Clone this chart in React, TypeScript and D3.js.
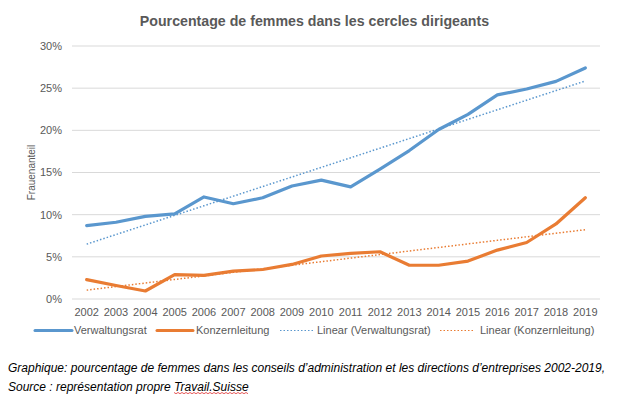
import React from "react";
import * as d3 from "d3";

const years = ["2002","2003","2004","2005","2006","2007","2008","2009","2010","2011","2012","2013","2014","2015","2016","2017","2018","2019"];
const verwaltungsrat = [8.7, 9.1, 9.8, 10.1, 12.1, 11.3, 12.0, 13.4, 14.1, 13.3, 15.4, 17.6, 20.1, 21.9, 24.2, 24.9, 25.8, 27.4];
const konzernleitung = [2.3, 1.6, 0.95, 2.9, 2.8, 3.3, 3.5, 4.1, 5.1, 5.4, 5.6, 4.0, 4.0, 4.5, 5.8, 6.7, 8.9, 12.0];
const yTicks = [0, 5, 10, 15, 20, 25, 30];
const legendLabels = ["Verwaltungsrat", "Konzernleitung", "Linear (Verwaltungsrat)", "Linear (Konzernleitung)"];

const BLUE = "#5A97CE";
const ORANGE = "#E97C33";
const TEXT = "#595959";
const FONT = "'Liberation Sans', Arial, sans-serif";

function linReg(vals: number[]) {
  const n = vals.length;
  const mx = (n - 1) / 2;
  const my = d3.mean(vals) as number;
  let num = 0, den = 0;
  vals.forEach((v, i) => { num += (i - mx) * (v - my); den += (i - mx) * (i - mx); });
  const b = num / den;
  const a = my - b * mx;
  return vals.map((_, i) => a + b * i);
}

export default function App() {
  const W = 626, H = 407;
  const left = 72, right = 600, top = 46, bottom = 299;
  const x = d3.scaleBand<string>().domain(years).range([left, right]);
  const xc = (d: string) => (x(d) as number) + x.bandwidth() / 2;
  const y = d3.scaleLinear().domain([0, 30]).range([bottom, top]);
  const line = d3.line<number>().x((_, i) => xc(years[i])).y((v) => y(v));

  const trendV = linReg(verwaltungsrat);
  const trendK = linReg(konzernleitung);

  const legendItems = [
    { label: legendLabels[0], color: BLUE, dotted: false, x1: 35, x2: 72, tx: 74 },
    { label: legendLabels[1], color: ORANGE, dotted: false, x1: 157, x2: 193, tx: 196 },
    { label: legendLabels[2], color: BLUE, dotted: true, x1: 280, x2: 314, tx: 317 },
    { label: legendLabels[3], color: ORANGE, dotted: true, x1: 440, x2: 474, tx: 480 },
  ];
  const legendY = 330.5;

  return (
    <svg width={W} height={H} style={{ position: "absolute", left: 0, top: 0, background: "#fff" }} fontFamily={FONT}>
      <rect width={W} height={H} fill="#fff" />
      <text x={314.5} y={26} textAnchor="middle" fontSize={14.2} fontWeight="bold" fill={TEXT}>
        Pourcentage de femmes dans les cercles dirigeants
      </text>
      {yTicks.map((t) => (
        <g key={t}>
          <line x1={left} x2={right} y1={y(t)} y2={y(t)} stroke="#D9D9D9" strokeWidth={1} />
          <text x={62} y={y(t)} dy="0.35em" textAnchor="end" fontSize={11} fill={TEXT}>{t + "%"}</text>
        </g>
      ))}
      <text transform={`translate(35,${(top + bottom) / 2}) rotate(-90)`} textAnchor="middle" fontSize={10} fill={TEXT}>
        Frauenanteil
      </text>
      {years.map((yr) => (
        <text key={yr} x={xc(yr)} y={312.5} dy="0.35em" textAnchor="middle" fontSize={11} fill={TEXT}>{yr}</text>
      ))}
      <path d={line(trendV) as string} fill="none" stroke={BLUE} strokeWidth={1.5} strokeDasharray="1.5 2" />
      <path d={line(trendK) as string} fill="none" stroke={ORANGE} strokeWidth={1.5} strokeDasharray="1.5 2" />
      <path d={line(verwaltungsrat) as string} fill="none" stroke={BLUE} strokeWidth={3.2} strokeLinejoin="round" strokeLinecap="round" />
      <path d={line(konzernleitung) as string} fill="none" stroke={ORANGE} strokeWidth={3.2} strokeLinejoin="round" strokeLinecap="round" />
      {legendItems.map((it) => (
        <g key={it.label}>
          <line x1={it.x1} x2={it.x2} y1={legendY} y2={legendY} stroke={it.color}
            strokeWidth={it.dotted ? 1.2 : 3} strokeDasharray={it.dotted ? "1.5 2" : undefined} strokeLinecap={it.dotted ? "butt" : "round"} />
          <text x={it.tx} y={legendY} dy="0.35em" fontSize={11} fill={TEXT}>{it.label}</text>
        </g>
      ))}
      <text x={8} y={367.5} dy="0.35em" fontSize={12} fontStyle="italic" fill="#000">
        Graphique: pourcentage de femmes dans les conseils d’administration et les directions d’entreprises 2002-2019,
      </text>
      <text x={8} y={386.5} dy="0.35em" fontSize={12} fontStyle="italic" fill="#000">
        Source : représentation propre <tspan>Travail.Suisse</tspan>
      </text>
      <path d={d3.range(174, 249, 2).map((px, i) => `${i === 0 ? "M" : "L"}${px},${392.5 + (i % 2 === 0 ? 0 : 1.2)}`).join("")}
        fill="none" stroke="#E03030" strokeWidth={0.8} />
    </svg>
  );
}
